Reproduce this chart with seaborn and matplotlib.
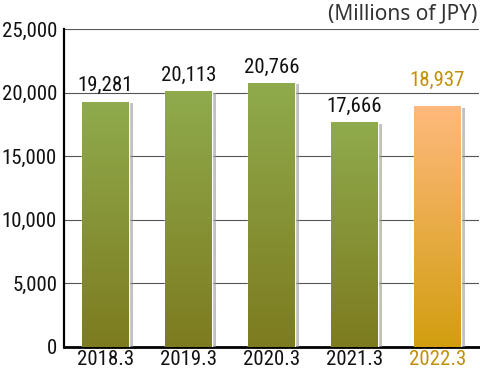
import matplotlib
matplotlib.use("Agg")
import matplotlib.pyplot as plt
import matplotlib.patheffects as pe
from matplotlib.colors import LinearSegmentedColormap
import numpy as np
import pandas as pd
import seaborn as sns

years = ["2018.3", "2019.3", "2020.3", "2021.3", "2022.3"]
sales = [19281, 20113, 20766, 17666, 18937]
labels = ["19,281", "20,113", "20,766", "17,666", "18,937"]

sns.set_style("white")
plt.rcParams["font.family"] = ["Roboto Condensed", "DejaVu Sans"]

df = pd.DataFrame({"year": years, "sales": sales})

fig = plt.figure(figsize=(4.8, 3.76), dpi=100)
ax = fig.add_axes([64 / 480, 29 / 376, 415 / 480, 318 / 376])

sns.barplot(data=df, x="year", y="sales", ax=ax, width=0.56, color="#8aa040",
            saturation=1, zorder=3)

green = LinearSegmentedColormap.from_list("g", ["#7d7b1f", "#8fab4d"])
orange = LinearSegmentedColormap.from_list("o", ["#d29e10", "#ffb97d"])
grad = np.linspace(0, 1, 256).reshape(-1, 1)

for i, bar in enumerate(ax.patches):
    x0, y0 = bar.get_x(), bar.get_y()
    w, h = bar.get_width(), bar.get_height()
    bar.set_facecolor("none")
    bar.set_path_effects([pe.SimplePatchShadow(offset=(3, -1), shadow_rgbFace="#999999", alpha=0.6),
                          pe.Normal()])
    cmap = orange if i == len(years) - 1 else green
    im = ax.imshow(grad, cmap=cmap, aspect="auto", origin="lower",
                   extent=[x0, x0 + w, y0, y0 + h], zorder=4)
    im.set_clip_path(bar)

ax.set_xlim(-0.5, 4.5)
ax.set_ylim(0, 25000)
ax.set_yticks(range(0, 25001, 5000))
ax.set_yticklabels([f"{v:,}" for v in range(0, 25001, 5000)], fontsize=15, color="#111111")
ax.set_xticks(range(len(years)))
ax.set_xticklabels(years, fontsize=15, color="#111111")
ax.tick_params(axis="y", length=0, pad=5)
ax.tick_params(axis="x", length=0, pad=2)
ax.get_xticklabels()[-1].set_color("#c0900a")
ax.set_xlabel("")
ax.set_ylabel("")

ax.yaxis.grid(True, color="#555555", linewidth=0.8, zorder=0)
ax.set_axisbelow(True)
for s in ["top", "right"]:
    ax.spines[s].set_visible(False)
ax.spines["left"].set_color("black")
ax.spines["left"].set_linewidth(1.6)
ax.spines["bottom"].set_color("black")
ax.spines["bottom"].set_linewidth(2)

for i, (v, t) in enumerate(zip(sales, labels)):
    last = i == len(years) - 1
    c = "#c0900a" if last else "#111111"
    ax.text(i, v + (1300 if last else 500), t, ha="center", va="bottom", fontsize=15, color=c)

fig.text(477 / 480, 1 - 14 / 376, "(Millions of JPY)", ha="right", va="center",
         fontsize=15, color="#333333", family=["Noto Sans", "DejaVu Sans"])

fig.savefig("out.png", dpi=100)
